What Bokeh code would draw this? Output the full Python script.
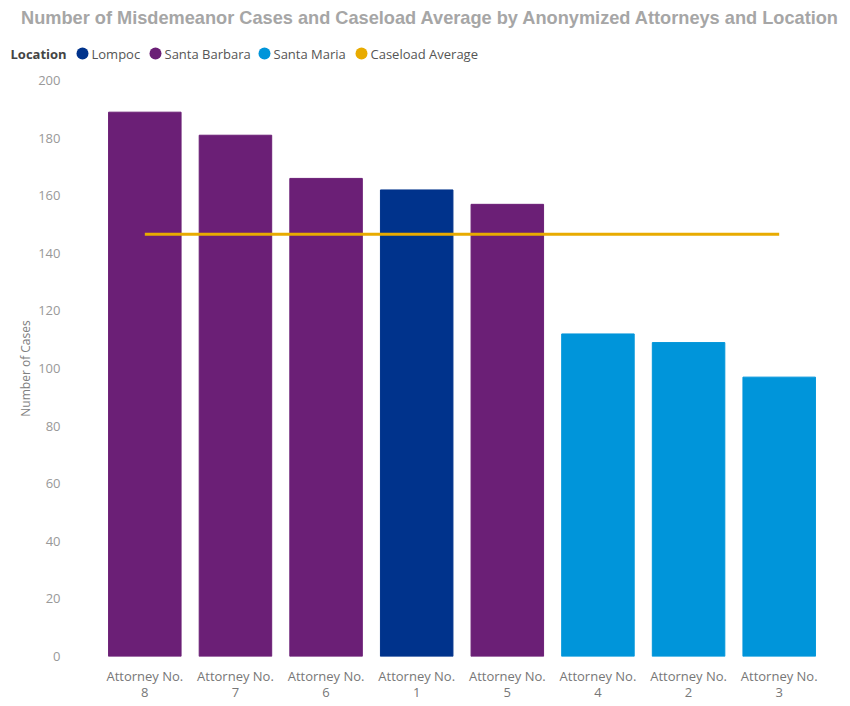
from bokeh.plotting import figure
from bokeh.models import (FactorRange, Range1d, ColumnDataSource, FixedTicker, CategoricalAxis,
                          CustomJSTickFormatter)
from bokeh.core.properties import value
from bokeh.embed import file_html
from bokeh.resources import INLINE

# ---- data ----
attorneys = ["Attorney No. 8", "Attorney No. 7", "Attorney No. 6", "Attorney No. 1",
             "Attorney No. 5", "Attorney No. 4", "Attorney No. 2", "Attorney No. 3"]
locations = ["Santa Barbara", "Santa Barbara", "Santa Barbara", "Lompoc",
             "Santa Barbara", "Santa Maria", "Santa Maria", "Santa Maria"]
cases = [189, 181, 166, 162, 157, 112, 109, 97]
caseload_average = 146.6
y_ticks = [0, 20, 40, 60, 80, 100, 120, 140, 160, 180, 200]
legend_labels = ["Lompoc", "Santa Barbara", "Santa Maria", "Caseload Average"]

loc_colors = {"Lompoc": "#00338C", "Santa Barbara": "#6B1F76", "Santa Maria": "#0095DA"}
avg_color = "#E8AB00"

W = 850
HEAD_H = 70
MAIN_H = 636

# ---- header: title + legend (pixel coordinates) ----
head = figure(width=W, height=HEAD_H, x_range=Range1d(0, W), y_range=Range1d(HEAD_H, 0),
              x_axis_type=None, y_axis_type=None, output_backend="svg", toolbar_location=None,
              min_border_left=0, min_border_right=0, min_border_top=0, min_border_bottom=0)
head.grid.visible = False
head.outline_line_color = None

head.text(x=[430], y=[17], text=["Number of Misdemeanor Cases and Caseload Average by Anonymized Attorneys and Location"],
          text_font=value("Liberation Sans"), text_font_style="bold", text_font_size="18.2px",
          text_color="#A6A6A6", text_align="center", text_baseline="middle")
head.text(x=[10], y=[53], text=["Location"], text_font=value("Open Sans"), text_font_style="bold",
          text_font_size="13px", text_color="#444444", text_align="left", text_baseline="middle")

leg_colors = [loc_colors["Lompoc"], loc_colors["Santa Barbara"], loc_colors["Santa Maria"], avg_color]
leg_circle_x = [82, 155, 264, 361]
leg_text_x = [91, 164, 273, 370]
head.scatter(x=leg_circle_x, y=[53] * 4, size=12, marker="circle", fill_color=leg_colors, line_color=None)
head.text(x=leg_text_x, y=[53] * 4, text=legend_labels, text_font=value("Open Sans"),
          text_font_size="13px", text_color="#555555", text_align="left", text_baseline="middle")

# ---- main chart ----
src = ColumnDataSource(dict(x=attorneys, y=cases, color=[loc_colors[l] for l in locations], loc=locations))

FL, FR = 99, 824
p = figure(width=W, height=MAIN_H, x_range=FactorRange(*attorneys, range_padding=0),
           y_range=Range1d(0, 200), output_backend="svg", toolbar_location=None,
           min_border_left=FL, min_border_right=W - FR, min_border_top=10, min_border_bottom=50)
p.outline_line_color = None
p.grid.visible = False

p.vbar(x="x", top="y", width=0.8, color="color", source=src)
p.line(x=attorneys, y=[caseload_average] * len(attorneys), line_color=avg_color, line_width=3)

ya = p.yaxis[0]
ya.ticker = FixedTicker(ticks=y_ticks)
ya.axis_line_color = None
ya.major_tick_line_color = None
ya.minor_tick_line_color = None
ya.major_tick_out = 0
ya.minor_tick_out = 0
ya.major_label_standoff = 39
ya.major_label_text_color = "#999999"
ya.major_label_text_font = "Open Sans"
ya.major_label_text_font_size = "13px"
ya.axis_label = "Number of Cases"
ya.axis_label_text_font = "Open Sans"
ya.axis_label_text_font_style = "normal"
ya.axis_label_text_font_size = "12px"
ya.axis_label_text_color = "#808080"
ya.axis_label_standoff = 1

def style_x(ax, standoff):
    ax.axis_line_color = None
    ax.major_tick_line_color = None
    ax.minor_tick_line_color = None
    ax.major_tick_out = 0
    ax.minor_tick_out = 0
    ax.major_label_standoff = standoff
    ax.major_label_text_color = "#777777"
    ax.major_label_text_font = "Open Sans"
    ax.major_label_text_font_size = "13px"
    ax.major_label_orientation = "horizontal"

x1 = p.xaxis[0]
x1.formatter = CustomJSTickFormatter(code="return tick.split(' ').slice(0, 2).join(' ');")
style_x(x1, 10)
x2 = CategoricalAxis(formatter=CustomJSTickFormatter(code="return tick.split(' ').pop();"))
style_x(x2, 0)
p.add_layout(x2, "below")

open("out.html", "w").write(file_html([head, p], INLINE))
